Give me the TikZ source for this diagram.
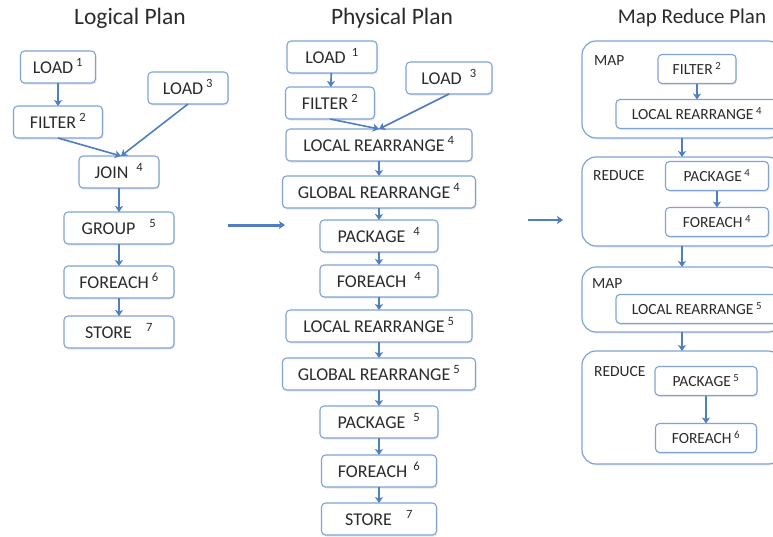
\documentclass[tikz,border=0pt]{standalone}
\usepackage{fontspec}
\setmainfont{Carlito}
\usepackage{xcolor}
\usetikzlibrary{arrows.meta, positioning, shadows}
\definecolor{boxline}{HTML}{7FA3D6}
\definecolor{arrowblue}{HTML}{4F7FBF}
\definecolor{txt}{HTML}{2B2B2B}

\begin{document}
\begin{tikzpicture}[x=1pt, y=-1pt, >={Stealth[length=6pt, width=8pt, inset=1.5pt]},
  font=\fontsize{18}{20}\selectfont, text=txt,
  op/.style={draw=boxline, line width=1.1pt, rounded corners=4pt, fill=white, minimum height=32pt,
    text height=13.5pt, text depth=1.5pt, inner sep=2pt, outer sep=0pt,
    drop shadow={opacity=0.18, shadow xshift=1pt, shadow yshift=-1.5pt}},
  mrop/.style={op, minimum height=29pt, text height=12pt, text depth=1.5pt, font=\fontsize{15.5}{18}\selectfont},
  stage/.style={draw=boxline, line width=1.2pt, rounded corners=14pt, fill=white, outer sep=0pt,
    drop shadow={opacity=0.15, shadow xshift=1pt, shadow yshift=-1.5pt}},
  lbl/.style={font=\fontsize{15.5}{18}\selectfont, anchor=west, inner sep=0pt},
  title/.style={font=\fontsize{23.5}{26}\selectfont},
  flow/.style={->, draw=arrowblue, line width=1.6pt},
  big/.style={->, draw=arrowblue, line width=3pt}]
\useasboundingbox[fill=white] (0,0) rectangle (773,536);

% logical plan
\node[title] (tlog) at (130,18) {Logical Plan};
\node[op, minimum width=75pt] (lload1) at (58,67) {LOAD\,\textsuperscript{1}};
\node[op, minimum width=80pt] (lload3) at (188,88) {LOAD\,\textsuperscript{3}};
\node[op, minimum width=89pt] (lfilter) at (58,122) {FILTER\,\textsuperscript{2}};
\node[op, minimum width=80pt] (join) at (119,172) {JOIN\hspace{8pt}\textsuperscript{4}};
\node[op, minimum width=110pt, below=24pt of join] (group) {GROUP\hspace{14pt}\textsuperscript{5}};
\node[op, minimum width=110pt, below=22pt of group] (lforeach) {FOREACH\,\textsuperscript{6}};
\node[op, minimum width=110pt, below=18pt of lforeach] (lstore) {STORE\hspace{14pt}\textsuperscript{7}};
\draw[flow] (lload1) -- (lfilter);
\draw[flow] (lfilter.south) -- ([xshift=2pt]join.north);
\draw[flow] (lload3.south) -- ([xshift=2pt]join.north);
\draw[flow] (join) -- (group);
\draw[flow] (group) -- (lforeach);
\draw[flow] (lforeach) -- (lstore);

\coordinate (a1) at (228,225);
\coordinate (a2) at (285,225);
\draw[big] (a1) -- (a2);

% physical plan
\node[title] (tphys) at (392,18) {Physical Plan};
\node[op, minimum width=90pt] (pload1) at (332,57) {LOAD\hspace{6pt}\textsuperscript{1}};
\node[op, minimum width=86pt] (pload3) at (449,78) {LOAD\hspace{8pt}\textsuperscript{3}};
\node[op, minimum width=89pt] (pfilter) at (330,103) {FILTER\,\textsuperscript{2}};
\node[op, minimum width=186pt] (plr4) at (379,145) {LOCAL REARRANGE\,\textsuperscript{4}};
\node[op, minimum width=193pt, below=15pt of plr4] (pgr4) {GLOBAL REARRANGE\,\textsuperscript{4}};
\node[op, minimum width=118pt, below=12pt of pgr4] (ppack4) {PACKAGE\hspace{8pt}\textsuperscript{4}};
\node[op, minimum width=118pt, below=13pt of ppack4] (pforeach4) {FOREACH\hspace{8pt}\textsuperscript{4}};
\node[op, minimum width=186pt, below=13pt of pforeach4] (plr5) {LOCAL REARRANGE\,\textsuperscript{5}};
\node[op, minimum width=193pt, below=16pt of plr5] (pgr5) {GLOBAL REARRANGE\,\textsuperscript{5}};
\node[op, minimum width=118pt, below=16pt of pgr5] (ppack5) {PACKAGE\hspace{8pt}\textsuperscript{5}};
\node[op, minimum width=115pt, below=17pt of ppack5] (pforeach6) {FOREACH\hspace{6pt}\textsuperscript{6}};
\node[op, minimum width=115pt, below=16pt of pforeach6] (pstore) {STORE\hspace{14pt}\textsuperscript{7}};
\draw[flow] (pload1) -- (pfilter);
\draw[flow] (pfilter.south) -- (plr4.north);
\draw[flow] (pload3.south) -- (plr4.north);
\draw[flow] (plr4) -- (pgr4);
\draw[flow] (pgr4) -- (ppack4);
\draw[flow] (ppack4) -- (pforeach4);
\draw[flow] (pforeach4) -- (plr5);
\draw[flow] (plr5) -- (pgr5);
\draw[flow] (pgr5) -- (ppack5);
\draw[flow] (ppack5) -- (pforeach6);
\draw[flow] (pforeach6) -- (pstore);

\coordinate (b1) at (528,220);
\coordinate (b2) at (563,220);
\draw[big, line width=2.5pt] (b1) -- (b2);

% map reduce plan
\node[title, font=\fontsize{21}{24}\selectfont] (tmr) at (692,18) {Map Reduce Plan};
\node[stage, minimum width=200pt, minimum height=97pt] (map1) at (682,89.5) {};
\node[stage, minimum width=200pt, minimum height=89pt] (reduce1) at (682,201.5) {};
\node[stage, minimum width=200pt, minimum height=65pt] (map2) at (682,299.5) {};
\node[stage, minimum width=200pt, minimum height=113pt] (reduce2) at (682,407.5) {};
\node[lbl] (lmap1) at (594,61) {MAP};
\node[lbl] (lreduce1) at (593,176) {REDUCE};
\node[lbl] (lmap2) at (592,284) {MAP};
\node[lbl] (lreduce2) at (594,372) {REDUCE};
\node[mrop, minimum width=78pt] (mfilter) at (697,69) {FILTER\,\textsuperscript{2}};
\node[mrop, minimum width=162pt] (mlr4) at (697,114) {LOCAL REARRANGE\,\textsuperscript{4}};
\node[mrop, minimum width=103pt] (mpack4) at (717,176) {PACKAGE\,\textsuperscript{4}};
\node[mrop, minimum width=103pt] (mforeach4) at (717,222) {FOREACH\,\textsuperscript{4}};
\node[mrop, minimum width=162pt] (mlr5) at (697,309) {LOCAL REARRANGE\,\textsuperscript{5}};
\node[mrop, minimum width=102pt] (mpack5) at (706,381) {PACKAGE\,\textsuperscript{5}};
\node[mrop, minimum width=101pt] (mforeach6) at (706,438) {FOREACH\,\textsuperscript{6}};
\draw[flow] (mfilter) -- (mlr4);
\draw[flow] (mpack4) -- (mforeach4);
\draw[flow] (mpack5) -- (mforeach6);
\draw[flow] (map1) -- (reduce1);
\draw[flow] (reduce1) -- (map2);
\draw[flow] (map2) -- (reduce2);
\end{tikzpicture}
\end{document}
